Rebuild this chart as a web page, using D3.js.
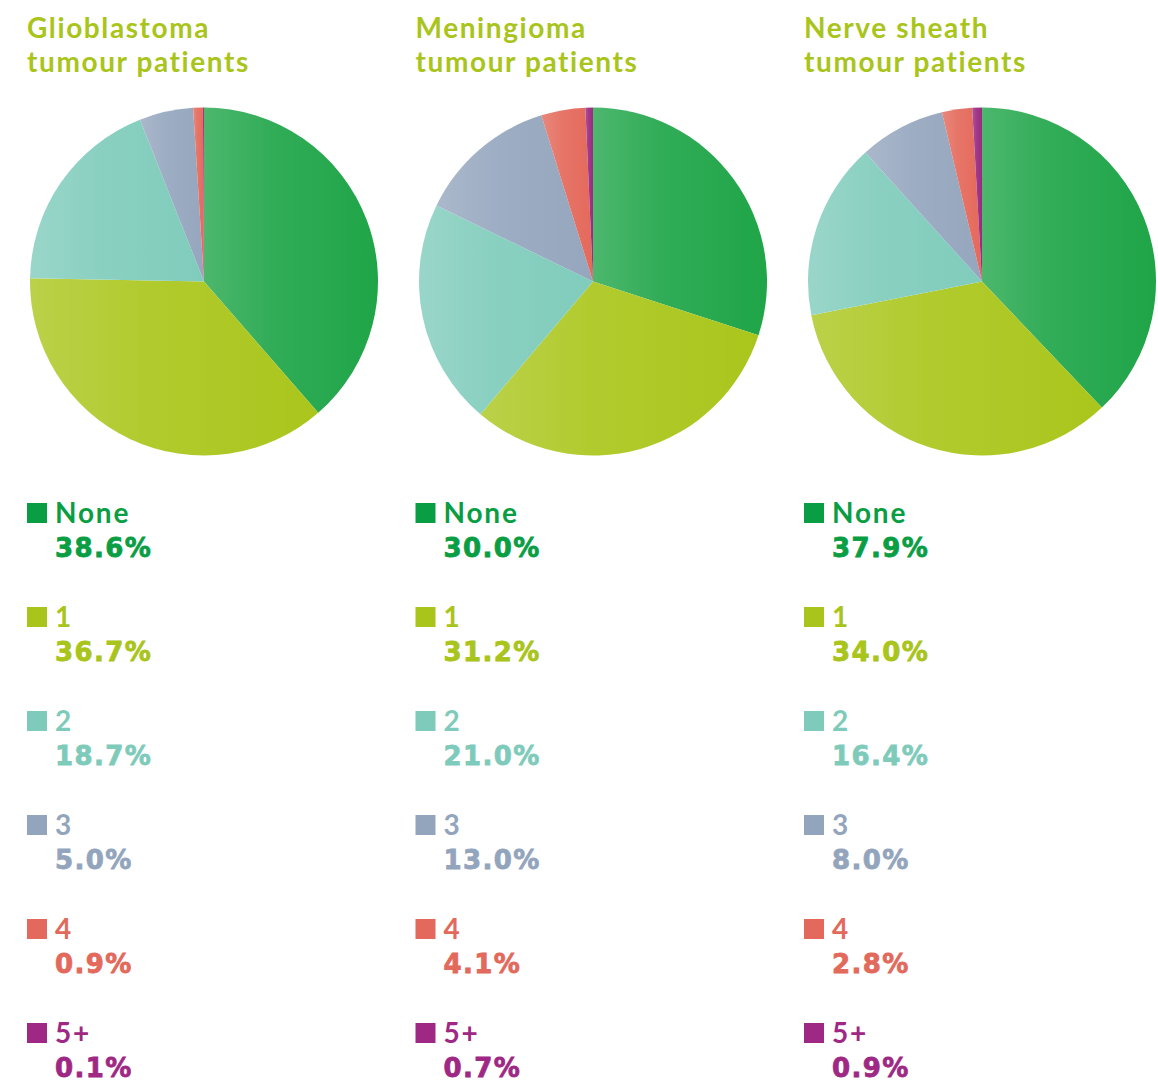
<!DOCTYPE html>
<html><head><meta charset="utf-8">
<script src="https://cdn.jsdelivr.net/npm/d3@7"></script>
<style>
html,body{margin:0;padding:0;background:#fff;}
svg{display:block;}
</style></head>
<body>
<svg id="chart" width="1158" height="1082"></svg>
<script>
const titles = [["Glioblastoma","tumour patients"],["Meningioma","tumour patients"],["Nerve sheath","tumour patients"]];
const categories = ["None","1","2","3","4","5+"];
const glioblastoma = [38.6,36.7,18.7,5.0,0.9,0.1];
const meningioma = [30.0,31.2,21.0,13.0,4.1,0.7];
const nerveSheath = [37.9,34.0,16.4,8.0,2.8,0.9];
const seriesList = [glioblastoma, meningioma, nerveSheath];
const colors = ["#0a9e44","#a9c41a","#7fcbbb","#93a5bd","#e2695b","#9e2884"];
const pieColors = ["#1fa548","#aac61c","#80ccbc","#95a6be","#e4695b","#9a2a80"];

const svg = d3.select("#chart");
const colX = d3.scaleLinear().domain([0,2]).range([27,804]);
const pieCX = d3.scaleLinear().domain([0,2]).range([204,982]);
const pieCY = 281.5, R = 174;
const rowY = d3.scaleLinear().domain([0,5]).range([513,1033]);

const defs = svg.append("defs");
pieColors.forEach((c,i)=>{
  const g = defs.append("linearGradient").attr("id","grad"+i)
    .attr("x1","0%").attr("x2","100%").attr("y1","0%").attr("y2","0%");
  g.append("stop").attr("offset","0%").attr("stop-color",d3.interpolateRgb(c,"#fff")(0.2));
  g.append("stop").attr("offset","40%").attr("stop-color",d3.interpolateRgb(c,"#fff")(0.08));
  g.append("stop").attr("offset","100%").attr("stop-color",c);
});

const pie = d3.pie().sort(null).value(d=>d);
const arc = d3.arc().innerRadius(0).outerRadius(R);

seriesList.forEach((vals,k)=>{
  const g = svg.append("g");
  const t = g.append("text").attr("x",colX(k)).attr("y",38)
    .attr("font-family","'Lato','Noto Sans',sans-serif").attr("font-weight",700)
    .attr("font-size",28).attr("letter-spacing",1.6).attr("fill","#a9c41a");
  t.append("tspan").attr("x",colX(k)).attr("dy",0).text(titles[k][0]);
  t.append("tspan").attr("x",colX(k)).attr("dy",34).text(titles[k][1]);

  const pg = g.append("g").attr("transform",`translate(${pieCX(k)},${pieCY})`);
  pg.selectAll("path").data(pie(vals)).join("path")
    .attr("d",arc)
    .attr("fill",(d,i)=>`url(#grad${i})`);

  categories.forEach((c,i)=>{
    const y = rowY(i);
    g.append("rect").attr("x",colX(k)).attr("y",y-10).attr("width",20).attr("height",20).attr("fill",colors[i]);
    g.append("text").attr("x",colX(k)+28).attr("y",y+10)
      .attr("font-family","'Lato','Noto Sans',sans-serif").attr("font-weight",700)
      .attr("font-size",28).attr("letter-spacing",1.8).attr("fill",colors[i]).text(c);
    g.append("text").attr("x",colX(k)+28).attr("y",y+44)
      .attr("font-family","'DejaVu Sans',sans-serif").attr("font-weight",700)
      .attr("font-size",26).attr("letter-spacing",1.4)
      .attr("stroke",colors[i]).attr("stroke-width",0.8)
      .attr("fill",colors[i]).text(vals[i].toFixed(1)+"%");
  });
});
</script>
</body></html>
